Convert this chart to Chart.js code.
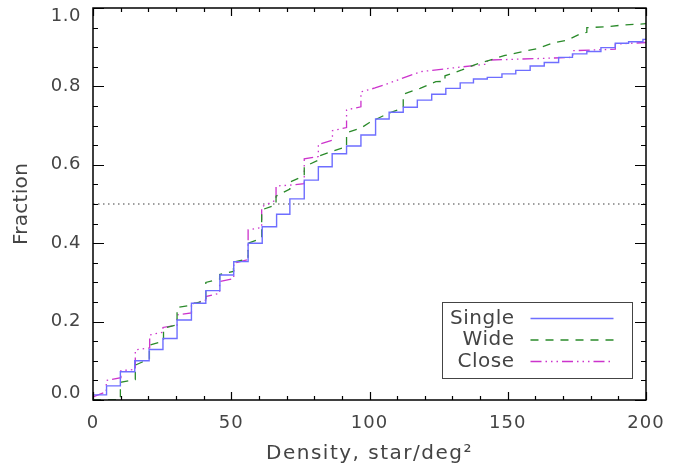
<!DOCTYPE html>
<html>
<head>
<meta charset="utf-8">
<script src="https://cdn.jsdelivr.net/npm/chart.js@4.4.1/dist/chart.umd.min.js"></script>
<style>
  html, body { margin: 0; padding: 0; background: #ffffff; }
  #wrap { width: 694px; height: 470px; }
</style>
</head>
<body>
<div id="wrap"><canvas id="cdfChart" width="694" height="470"></canvas></div>
<script>
// Cumulative fraction vs. local stellar density

// Single: step function (level holds from each x to the next)
const singleX = [0, 4.9, 9.9, 15.1, 20.3, 25.3, 30.4, 35.6, 40.8, 45.9, 50.9, 56.1, 61.2, 66.4, 71.2, 76.4, 81.5, 86.5, 91.7, 96.9, 102.2, 107.1, 112.2, 117.3, 122.5, 127.6, 132.8, 137.6, 142.6, 147.9, 152.9, 158.1, 163.2, 168.4, 173.4, 178.6, 183.7, 188.9, 193.7, 198.9, 200];
const singleY = [0.013, 0.036, 0.072, 0.100, 0.129, 0.157, 0.204, 0.247, 0.279, 0.319, 0.353, 0.400, 0.442, 0.474, 0.513, 0.561, 0.595, 0.628, 0.648, 0.676, 0.717, 0.734, 0.747, 0.765, 0.780, 0.795, 0.809, 0.819, 0.823, 0.832, 0.841, 0.852, 0.861, 0.874, 0.883, 0.889, 0.899, 0.910, 0.914, 0.920, 0.922];

// Wide: polyline with vertical jumps
const wideX = [0, 9.9, 9.9, 15.3, 15.3, 20.4, 20.4, 25.5, 25.5, 30.4, 30.4, 35.6, 35.6, 40.8, 40.8, 45.8, 45.8, 50.8, 50.8, 56.1, 56.1, 61.0, 61.0, 66.2, 66.2, 71.2, 71.2, 76.4, 76.4, 81.5, 81.5, 91.0, 91.7, 91.7, 97.0, 100.0, 107.0, 112.2, 112.2, 118.3, 124.0, 127.3, 127.3, 133.4, 138.0, 143.0, 149.0, 155.0, 161.0, 166.0, 171.5, 176.0, 178.6, 178.6, 186.0, 192.0, 198.0, 200];
const wideY = [0.000, 0.000, 0.045, 0.052, 0.089, 0.105, 0.140, 0.150, 0.183, 0.192, 0.236, 0.242, 0.245, 0.253, 0.300, 0.308, 0.320, 0.328, 0.352, 0.360, 0.400, 0.413, 0.485, 0.498, 0.520, 0.538, 0.556, 0.572, 0.595, 0.612, 0.622, 0.645, 0.645, 0.682, 0.694, 0.708, 0.732, 0.745, 0.780, 0.795, 0.812, 0.813, 0.827, 0.842, 0.855, 0.866, 0.879, 0.888, 0.897, 0.910, 0.918, 0.933, 0.938, 0.950, 0.952, 0.957, 0.959, 0.960];

// Close: polyline with vertical jumps
const closeX = [0, 4.8, 4.8, 10.1, 10.1, 15.3, 15.3, 20.5, 20.5, 25.3, 25.3, 30.4, 30.4, 35.6, 35.6, 40.8, 40.8, 45.8, 45.8, 50.9, 50.9, 56.1, 56.1, 61.0, 61.0, 66.2, 66.2, 71.2, 76.4, 76.4, 81.5, 81.5, 86.6, 86.6, 91.7, 91.7, 96.9, 96.9, 102.0, 107.0, 115.0, 119.0, 130.0, 137.6, 142.6, 142.6, 173.5, 173.5, 188.9, 188.9, 200];
const closeY = [0.008, 0.021, 0.050, 0.057, 0.075, 0.078, 0.128, 0.133, 0.166, 0.173, 0.185, 0.191, 0.217, 0.222, 0.245, 0.255, 0.264, 0.272, 0.302, 0.310, 0.349, 0.358, 0.434, 0.440, 0.493, 0.510, 0.546, 0.548, 0.552, 0.615, 0.621, 0.652, 0.663, 0.687, 0.695, 0.740, 0.748, 0.786, 0.796, 0.808, 0.829, 0.838, 0.847, 0.853, 0.857, 0.867, 0.874, 0.891, 0.895, 0.908, 0.912];

// Median reference line
const medianX = [0, 200];
const medianY = [0.5, 0.5];

// Axis ticks and titles
const xTicks = [0, 50, 100, 150, 200];
const yTicks = [0.0, 0.2, 0.4, 0.6, 0.8, 1.0];
const xTitle = 'Density, star/deg\u00B2';
const yTitle = 'Fraction';

const FONT = "'DejaVu Sans', 'Liberation Sans', sans-serif";
const TEXT = '#444444';

const toPoints = (xs, ys) => xs.map((x, i) => ({ x: x, y: ys[i] }));

// Frame, inward ticks on all four sides, labels and legend box
const framePlugin = {
  id: 'framePlugin',
  afterDatasetsDraw(chart) {
    const { ctx, chartArea: a, scales } = chart;
    const xs = scales.x, ys = scales.y;
    ctx.save();
    ctx.strokeStyle = '#000';
    ctx.lineWidth = 1.5;
    ctx.strokeRect(a.left, a.top, a.right - a.left, a.bottom - a.top);

    ctx.lineWidth = 1.2;
    ctx.beginPath();
    for (let v = 0; v <= 200; v += 10) {
      const px = Math.round(xs.getPixelForValue(v)) + 0.5;
      const len = v % 50 === 0 ? 8 : 4;
      ctx.moveTo(px, a.bottom); ctx.lineTo(px, a.bottom - len);
      ctx.moveTo(px, a.top); ctx.lineTo(px, a.top + len);
    }
    for (let k = 0; k <= 20; k++) {
      const py = Math.round(ys.getPixelForValue(k * 0.05)) + 0.5;
      const len = k % 4 === 0 ? 11 : 5;
      ctx.moveTo(a.left, py); ctx.lineTo(a.left + len, py);
      ctx.moveTo(a.right, py); ctx.lineTo(a.right - len, py);
    }
    ctx.stroke();

    ctx.fillStyle = TEXT;
    ctx.textBaseline = 'middle';

    // y tick labels, end ones nudged inside like the original
    ctx.font = '18px ' + FONT;
    ctx.textAlign = 'right';
    ctx.letterSpacing = '0.5px';
    yTicks.forEach(v => {
      let py = ys.getPixelForValue(v);
      py = Math.min(Math.max(py, a.top + 8), a.bottom - 7);
      ctx.fillText(v.toFixed(1), a.left - 12, py);
    });

    // x tick labels
    ctx.textAlign = 'center';
    ctx.letterSpacing = '1px';
    xTicks.forEach(v => {
      ctx.fillText(String(v), xs.getPixelForValue(v), a.bottom + 23);
    });

    // axis titles
    ctx.font = '20px ' + FONT;
    ctx.letterSpacing = '1.5px';
    ctx.fillText(xTitle, (a.left + a.right) / 2, a.bottom + 54);
    ctx.save();
    ctx.translate(22, (a.top + a.bottom) / 2);
    ctx.rotate(-Math.PI / 2);
    ctx.letterSpacing = '0.3px';
    ctx.fillText(yTitle, 0, 0);
    ctx.restore();

    // legend
    const bx = a.right - 203.5, by = a.bottom - 97.5, bw = 190, bh = 76;
    ctx.strokeStyle = '#444';
    ctx.lineWidth = 1;
    ctx.strokeRect(bx, by, bw, bh);
    ctx.font = '20px ' + FONT;
    ctx.letterSpacing = '0.5px';
    chart.data.datasets.forEach((ds, i) => {
      if (!ds.showInLegend) return;
      const ty = by + 16 + i * 21.5;
      ctx.fillStyle = TEXT;
      ctx.textAlign = 'right';
      ctx.fillText(ds.label, bx + 72, ty);
      ctx.strokeStyle = ds.borderColor;
      ctx.lineWidth = 1.3;
      ctx.setLineDash(ds.borderDash || []);
      ctx.beginPath();
      ctx.moveTo(bx + 88, ty);
      ctx.lineTo(bx + 171, ty);
      ctx.stroke();
      ctx.setLineDash([]);
    });
    ctx.restore();
  }
};

const ctx = document.getElementById('cdfChart').getContext('2d');
new Chart(ctx, {
  type: 'line',
  data: {
    datasets: [
      {
        label: 'Single',
        data: toPoints(singleX, singleY),
        borderColor: 'rgb(110,110,255)',
        borderWidth: 1.4,
        stepped: 'before',
        showInLegend: true
      },
      {
        label: 'Wide',
        data: toPoints(wideX, wideY),
        borderColor: '#2a8a2a',
        borderWidth: 1.3,
        borderDash: [8, 7],
        showInLegend: true
      },
      {
        label: 'Close',
        data: toPoints(closeX, closeY),
        borderColor: '#cc33cc',
        borderWidth: 1.3,
        borderDash: [11, 4, 1.5, 4, 1.5, 4, 1.5, 4],
        showInLegend: true
      },
      {
        label: 'median',
        data: toPoints(medianX, medianY),
        borderColor: '#808080',
        borderWidth: 1.5,
        borderDash: [1.5, 3.5],
        showInLegend: false
      }
    ]
  },
  options: {
    responsive: false,
    animation: false,
    devicePixelRatio: 1,
    layout: { padding: { top: 8, right: 48, left: 0, bottom: 0 } },
    elements: { point: { radius: 0 }, line: { tension: 0, fill: false } },
    plugins: { legend: { display: false }, tooltip: { enabled: false } },
    scales: {
      x: {
        type: 'linear',
        min: 0,
        max: 200,
        afterBuildTicks: s => { s.ticks = xTicks.map(v => ({ value: v })); },
        afterFit: s => { s.height = 70; },
        grid: { display: false, drawTicks: false },
        border: { display: false },
        ticks: { display: false }
      },
      y: {
        type: 'linear',
        min: 0,
        max: 1,
        afterBuildTicks: s => { s.ticks = yTicks.map(v => ({ value: v })); },
        afterFit: s => { s.width = 93; },
        grid: { display: false, drawTicks: false },
        border: { display: false },
        ticks: { display: false }
      }
    }
  },
  plugins: [framePlugin]
});
</script>
</body>
</html>
